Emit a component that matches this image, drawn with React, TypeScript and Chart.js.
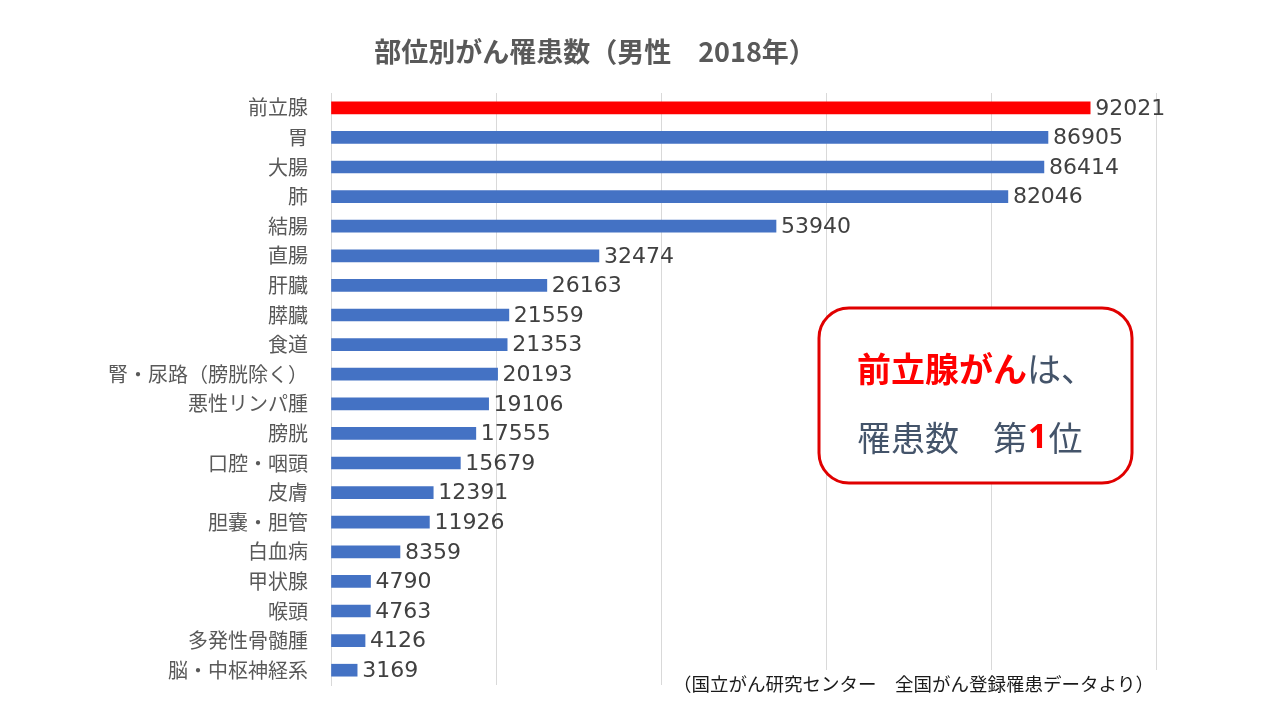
import React, { useEffect, useRef } from "react";
import { Chart, registerables } from "chart.js";

Chart.register(...registerables);

const categories = [
  "前立腺", "胃", "大腸", "肺", "結腸", "直腸", "肝臓", "膵臓", "食道",
  "腎・尿路（膀胱除く）", "悪性リンパ腫", "膀胱", "口腔・咽頭", "皮膚",
  "胆嚢・胆管", "白血病", "甲状腺", "喉頭", "多発性骨髄腫", "脳・中枢神経系",
];
const values = [
  92021, 86905, 86414, 82046, 53940, 32474, 26163, 21559, 21353, 20193,
  19106, 17555, 15679, 12391, 11926, 8359, 4790, 4763, 4126, 3169,
];
const barColors = categories.map((_, i) => (i === 0 ? "#ff0000" : "#4472c4"));
const titleText = "部位別がん罹患数（男性　2018年）";
const sourceText = "（国立がん研究センター　全国がん登録罹患データより）";

const JP = '"Noto Sans CJK JP", "Noto Sans", sans-serif';

const overlay = {
  id: "overlay",
  afterDatasetsDraw(chart: any) {
    const ctx = chart.ctx as CanvasRenderingContext2D;
    const meta = chart.getDatasetMeta(0);
    ctx.save();
    // data labels
    ctx.font = '22px "DejaVu Sans", sans-serif';
    ctx.fillStyle = "#404040";
    ctx.textAlign = "left";
    ctx.textBaseline = "middle";
    meta.data.forEach((el: any, i: number) => {
      ctx.fillText(String(values[i]), el.x + 5, el.y + 1);
    });
    // title
    ctx.font = "bold 27px " + JP;
    ctx.fillStyle = "#595959";
    ctx.textAlign = "center";
    ctx.fillText(titleText, 595, 52);
    // source
    ctx.font = "18.5px " + JP;
    ctx.textAlign = "left";
    const sw = ctx.measureText(sourceText).width;
    ctx.fillStyle = "#ffffff";
    ctx.fillRect(672, 670, sw + 10, 30);
    ctx.fillStyle = "#1a1a1a";
    ctx.fillText(sourceText, 673, 684);
    // annotation box
    const bx = 819, by = 308, bw = 313, bh = 175, r = 30;
    ctx.beginPath();
    ctx.moveTo(bx + r, by);
    ctx.arcTo(bx + bw, by, bx + bw, by + bh, r);
    ctx.arcTo(bx + bw, by + bh, bx, by + bh, r);
    ctx.arcTo(bx, by + bh, bx, by, r);
    ctx.arcTo(bx, by, bx + bw, by, r);
    ctx.closePath();
    ctx.fillStyle = "#ffffff";
    ctx.fill();
    ctx.lineWidth = 3;
    ctx.strokeStyle = "#e00000";
    ctx.stroke();
    // line 1
    let x = 857;
    ctx.textBaseline = "middle";
    ctx.font = "bold 34px " + JP;
    ctx.fillStyle = "#ff0000";
    ctx.fillText("前立腺がん", x, 369);
    x += ctx.measureText("前立腺がん").width;
    ctx.font = "34px " + JP;
    ctx.fillStyle = "#44546a";
    ctx.fillText("は、", x, 369);
    // line 2
    x = 857;
    ctx.font = "34px " + JP;
    ctx.fillStyle = "#44546a";
    const p1 = "罹患数　第";
    ctx.fillText(p1, x, 438);
    x += ctx.measureText(p1).width;
    ctx.font = 'bold 34px "Noto Sans", sans-serif';
    ctx.fillStyle = "#ff0000";
    ctx.fillText("1", x + 1, 438);
    x += ctx.measureText("1").width + 2;
    ctx.font = "34px " + JP;
    ctx.fillStyle = "#44546a";
    ctx.fillText("位", x, 438);
    ctx.restore();
  },
};

export default function App() {
  const ref = useRef<HTMLCanvasElement | null>(null);
  useEffect(() => {
    if (!ref.current) return;
    const chart = new Chart(ref.current, {
      type: "bar",
      data: {
        labels: categories,
        datasets: [
          {
            data: values,
            backgroundColor: barColors,
            barThickness: 12,
          },
        ],
      },
      options: {
        indexAxis: "y",
        animation: false,
        responsive: false,
        maintainAspectRatio: false,
        layout: { padding: { left: 0, right: 124, top: 93, bottom: 29 } },
        plugins: {
          legend: { display: false },
          title: { display: false },
          tooltip: { enabled: false },
        },
        scales: {
          x: {
            min: 0,
            max: 100000,
            ticks: { display: false, stepSize: 20000 },
            grid: { color: "#d9d9d9", drawTicks: false, lineWidth: 1 },
            border: { display: false },
            afterFit: (s: any) => {
              s.height = 0;
            },
          },
          y: {
            ticks: {
              color: "#595959",
              font: { family: JP, size: 20 },
              padding: 23,
              autoSkip: false,
            },
            grid: { display: false, drawTicks: false },
            border: { display: true, color: "#d9d9d9" },
            afterFit: (s: any) => {
              s.width = 331;
            },
          },
        },
      },
      plugins: [overlay],
    });
    return () => chart.destroy();
  }, []);
  return (
    <div style={{ position: "fixed", left: 0, top: 0, width: 1280, height: 720, background: "#fff" }}>
      <canvas ref={ref} width={1280} height={720} style={{ width: 1280, height: 720 }} />
    </div>
  );
}
